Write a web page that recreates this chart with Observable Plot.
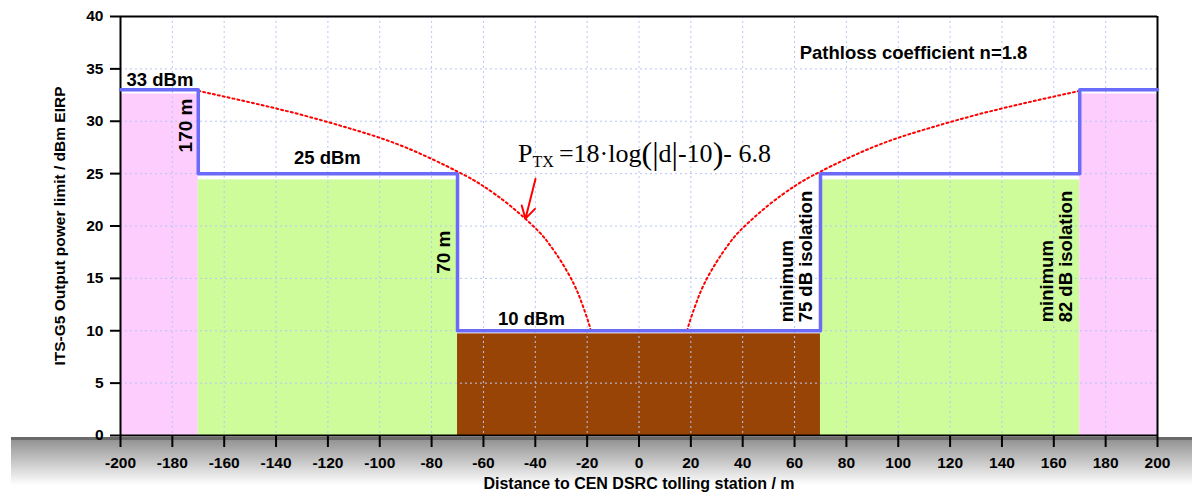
<!DOCTYPE html>
<html><head><meta charset="utf-8">
<script src="https://cdn.jsdelivr.net/npm/d3@7"></script>
<script src="https://cdn.jsdelivr.net/npm/@observablehq/plot@0.6"></script>
<style>body{margin:0;background:#fff}</style>
</head><body><div id="chart"></div>
<script>
// zones (fills under the limit line)
const zoneStart = [-200, -170, -70, 70, 170];
const zoneEnd   = [-170, -70, 70, 170, 200];
const zoneTop   = [32.6, 24.4, 9.7, 24.4, 32.6];
const zoneColor = ["#fdcdfd", "#cffc9b", "#984406", "#cffc9b", "#fdcdfd"];

// output power limit (step line)
const limitX = [-200, -170, -70, 70, 170, 200];
const limitY = [33, 25, 10, 25, 33, 33];

// pathloss curve P = 18·log(|d|-10) - 6.8
const curveDist = [170, 150, 130, 110, 90, 70, 60, 50, 40, 35, 30, 25, 22, 20, 19, 18.7];
const curveP    = [32.9, 31.8, 30.6, 29.2, 27.5, 25.2, 23.8, 22.0, 19.8, 18.4, 16.6, 14.4, 12.6, 11.2, 10.4, 10.1];

const xTicks = [-200,-180,-160,-140,-120,-100,-80,-60,-40,-20,0,20,40,60,80,100,120,140,160,180,200];
const yTicks = [0,5,10,15,20,25,30,35,40];
const xGrid = [-180,-160,-140,-120,-100,-80,-60,-40,-20,0,20,40,60,80,100,120,140,160,180];
const yGrid = [5,10,15,20,25,30,35];

const zones = zoneStart.map((s, i) => ({x1: s, x2: zoneEnd[i], top: zoneTop[i], color: zoneColor[i]}));
const limit = limitX.map((x, i) => ({x, y: limitY[i]}));
const curve = [
  ...curveDist.map((d, i) => ({x: -d, y: curveP[i], side: "L"})),
  ...curveDist.map((d, i) => ({x: d, y: curveP[i], side: "R"}))
];

const W = 1192, H = 495;
const bold = {fontWeight: "bold", fill: "#000"};
const plot = Plot.plot({
  width: W, height: H,
  marginLeft: 120, marginRight: 35, marginTop: 16, marginBottom: 60,
  x: {domain: [-200, 200]},
  y: {domain: [0, 40]},
  color: {type: "identity"},
  style: {fontFamily: "'Liberation Sans', Arial, sans-serif", fontSize: "15px", fontWeight: "bold", color: "#000", background: "#fff", overflow: "visible"},
  marks: [
    Plot.rectY(zones, {x1: "x1", x2: "x2", y1: 0, y2: "top", fill: "color"}),
    Plot.ruleX(xGrid, {stroke: "#b8c6f4", strokeDasharray: "2,3", strokeWidth: 1}),
    Plot.ruleY(yGrid, {stroke: "#b8c6f4", strokeDasharray: "2,3", strokeWidth: 1}),
    Plot.ruleX([-200, 200], {stroke: "#000", strokeWidth: 2}),
    Plot.ruleY([0, 40], {stroke: "#000", strokeWidth: 2}),
    Plot.axisY({ticks: yTicks, tickSize: 10, tickPadding: 7, label: null, strokeWidth: 2, fontSize: 15.5, tickFormat: d => `${d}`}),
    Plot.axisX({ticks: xTicks, tickSize: 12, tickPadding: 9, label: null, strokeWidth: 2, fontSize: 15.5, tickFormat: d => `${d}`}),
    Plot.line(curve, {x: "x", y: "y", z: "side", stroke: "#ff0000", strokeWidth: 2, strokeDasharray: "2,3", curve: "natural"}),
    Plot.line(limit, {x: "x", y: "y", curve: "step-after", stroke: "#6b6bfb", strokeWidth: 3.5}),
    Plot.arrow([{x1: -39.9, y1: 24.5, x2: -43.8, y2: 20.7}], {x1: "x1", y1: "y1", x2: "x2", y2: "y2", stroke: "#ff0000", strokeWidth: 2, headLength: 18}),
    Plot.text(["33 dBm"], {x: -184.8, y: 33.9, fontSize: 18.5, ...bold}),
    Plot.text(["25 dBm"], {x: -120.2, y: 26.5, fontSize: 18.5, ...bold}),
    Plot.text(["10 dBm"], {x: -41.5, y: 11.1, fontSize: 18.5, ...bold}),
    Plot.text(["170 m"], {x: -174.9, y: 29.6, rotate: -90, fontSize: 19, ...bold}),
    Plot.text(["70 m"], {x: -75.4, y: 17.5, rotate: -90, fontSize: 19, ...bold}),
    Plot.text(["minimum\n75 dB isolation"], {x: 60.8, y: 10.8, rotate: -90, textAnchor: "start", lineHeight: 1.0, fontSize: 18.5, ...bold}),
    Plot.text(["minimum\n82 dB isolation"], {x: 161, y: 10.8, rotate: -90, textAnchor: "start", lineHeight: 1.0, fontSize: 18.5, ...bold}),
    Plot.text(["Pathloss coefficient n=1.8"], {x: 105.9, y: 36.5, fontSize: 18.5, ...bold}),
    Plot.text(["ITS-G5 Output power limit / dBm EIRP"], {frameAnchor: "left", dx: -60, rotate: -90, textAnchor: "middle", fontSize: 15.5, ...bold}),
    Plot.text(["Distance to CEN DSRC tolling station / m"], {frameAnchor: "bottom", dy: 53, fontSize: 16, ...bold})
  ]
});

const sx = plot.scale("x"), sy = plot.scale("y");
const svg = d3.select(plot);
// ground band under the x axis
const y0 = sy.apply(0);
const band = svg.insert("g", ":first-child");
band.append("rect").attr("x", 11).attr("y", y0 + 2).attr("width", W - 11).attr("height", 48).attr("fill", "url(#ground)");
band.append("rect").attr("x", 11).attr("y", y0 + 2).attr("width", W - 11).attr("height", 3).attr("fill", "#6a6a6a");
const defs = svg.insert("defs", ":first-child");
const grad = defs.append("linearGradient").attr("id", "ground").attr("x1", 0).attr("y1", 0).attr("x2", 0).attr("y2", 1);
grad.append("stop").attr("offset", "0%").attr("stop-color", "#8c8c8c");
grad.append("stop").attr("offset", "100%").attr("stop-color", "#ffffff");
// formula
const f = svg.append("text")
  .attr("x", sx.apply(-46.5)).attr("y", sy.apply(26.1))
  .attr("text-anchor", "start")
  .attr("font-family", "'Liberation Serif', 'Times New Roman', serif")
  .attr("font-size", 26).attr("font-weight", "normal").attr("fill", "#000");
f.append("tspan").text("P");
f.append("tspan").attr("font-size", 16).attr("dy", 5).text("TX");
f.append("tspan").attr("dy", -5).text("\u2009=18\u00b7log");
f.append("tspan").attr("font-size", 32).attr("dy", 2).text("(|");
f.append("tspan").attr("dy", -2).text("d");
f.append("tspan").attr("font-size", 32).attr("dy", 2).text("|");
f.append("tspan").attr("dy", -2).text("-10");
f.append("tspan").attr("font-size", 32).attr("dy", 2).text(")");
f.append("tspan").attr("dy", -2).text("- 6.8");

document.getElementById("chart").appendChild(plot);
</script>
</body></html>
